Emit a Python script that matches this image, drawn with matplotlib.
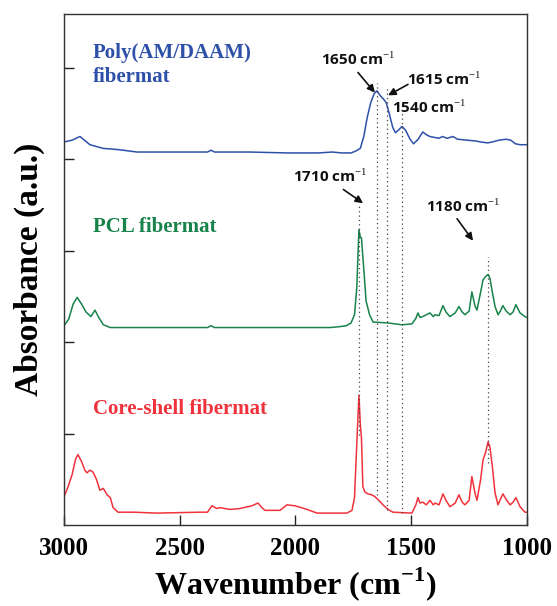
import numpy as np
import matplotlib
matplotlib.use('Agg')
import matplotlib.pyplot as plt

plt.rcParams['mathtext.fontset'] = 'custom'
plt.rcParams['mathtext.rm'] = 'Liberation Serif'
plt.rcParams['mathtext.bf'] = 'Liberation Serif:bold'

# Poly(AM/DAAM) fibermat (offset spectrum)
poly_wn = [3000, 2965, 2931, 2888, 2860, 2831, 2780, 2745, 2685, 2600, 2380, 2365, 2350, 2200, 2037,
           1900, 1842, 1800, 1760, 1740, 1720, 1705, 1690, 1675, 1660, 1648, 1635, 1620, 1608,
           1595, 1580, 1568, 1555, 1540, 1525, 1505, 1490, 1470, 1450, 1435, 1420, 1400, 1380,
           1365, 1345, 1320, 1300, 1260, 1220, 1200, 1170, 1150, 1120, 1090, 1070, 1050, 1030, 1000]
poly_abs = [4.19, 4.21, 4.25, 4.16, 4.14, 4.12, 4.11, 4.10, 4.08, 4.08, 4.08, 4.10, 4.08, 4.08, 4.07,
            4.07, 4.08, 4.07, 4.07, 4.09, 4.12, 4.25, 4.46, 4.62, 4.72, 4.75, 4.70, 4.66, 4.62,
            4.50, 4.35, 4.29, 4.32, 4.36, 4.32, 4.22, 4.17, 4.22, 4.30, 4.27, 4.25, 4.24, 4.23,
            4.25, 4.23, 4.25, 4.22, 4.21, 4.20, 4.19, 4.18, 4.19, 4.21, 4.22, 4.21, 4.17, 4.16, 4.16]

# PCL fibermat
pcl_wn = [3000, 2980, 2960, 2943, 2925, 2905, 2884, 2866, 2850, 2830, 2800, 2700, 2380, 2365,
          2350, 2000, 1850, 1808, 1780, 1760, 1745, 1735, 1726, 1720, 1715, 1705, 1695, 1680,
          1665, 1600, 1540, 1497, 1480, 1471, 1462, 1450, 1435, 1419, 1405, 1397, 1380, 1363,
          1350, 1333, 1310, 1294, 1280, 1268, 1250, 1238, 1225, 1216, 1200, 1190, 1178, 1168,
          1160, 1150, 1138, 1125, 1115, 1104, 1090, 1073, 1060, 1048, 1030, 1009, 1000]
pcl_abs = [2.18, 2.25, 2.42, 2.49, 2.42, 2.33, 2.28, 2.35, 2.27, 2.19, 2.16, 2.16, 2.16, 2.18,
           2.16, 2.16, 2.16, 2.17, 2.18, 2.21, 2.30, 2.60, 3.23, 3.15, 3.14, 2.80, 2.45, 2.30,
           2.22, 2.21, 2.19, 2.20, 2.26, 2.32, 2.27, 2.28, 2.30, 2.32, 2.28, 2.30, 2.29, 2.40,
           2.33, 2.28, 2.32, 2.39, 2.33, 2.30, 2.34, 2.55, 2.40, 2.35, 2.55, 2.68, 2.72, 2.74,
           2.70, 2.55, 2.39, 2.30, 2.34, 2.40, 2.34, 2.30, 2.33, 2.41, 2.32, 2.28, 2.27]

# Core-shell fibermat
core_wn = [3000, 2985, 2965, 2950, 2940, 2925, 2910, 2901, 2888, 2875, 2860, 2845, 2830, 2814,
           2800, 2788, 2767, 2700, 2600, 2412, 2380, 2361, 2340, 2326, 2283, 2240, 2188, 2162,
           2145, 2132, 2067, 2037, 2002, 1950, 1907, 1778, 1756, 1745, 1735, 1726, 1720, 1715,
           1709, 1700, 1687, 1670, 1657, 1640, 1622, 1600, 1579, 1497, 1480, 1471, 1462, 1450,
           1435, 1419, 1405, 1397, 1380, 1363, 1350, 1333, 1310, 1294, 1280, 1268, 1250, 1238,
           1225, 1216, 1200, 1190, 1178, 1168, 1160, 1150, 1138, 1125, 1115, 1104, 1090, 1073,
           1060, 1048, 1030, 1009, 1000]
core_abs = [0.31, 0.40, 0.55, 0.72, 0.77, 0.70, 0.60, 0.57, 0.60, 0.58, 0.50, 0.38, 0.40, 0.33,
            0.30, 0.19, 0.14, 0.14, 0.13, 0.14, 0.14, 0.21, 0.18, 0.19, 0.17, 0.18, 0.21, 0.24,
            0.19, 0.16, 0.16, 0.22, 0.21, 0.17, 0.13, 0.13, 0.16, 0.30, 0.90, 1.42, 1.10, 0.95,
            0.42, 0.36, 0.34, 0.33, 0.31, 0.27, 0.22, 0.17, 0.14, 0.13, 0.22, 0.30, 0.24, 0.25,
            0.22, 0.27, 0.22, 0.24, 0.22, 0.34, 0.27, 0.20, 0.24, 0.33, 0.25, 0.22, 0.27, 0.53,
            0.35, 0.27, 0.50, 0.71, 0.80, 0.91, 0.85, 0.65, 0.35, 0.22, 0.28, 0.34, 0.28, 0.22,
            0.25, 0.30, 0.20, 0.14, 0.14]

# dotted guide lines: position, top, bottom
guide_pos = [1726, 1648, 1605, 1540, 1168]
guide_top = [3.50, 4.84, 4.78, 4.52, 2.93]
guide_bot = [0.98, 0.33, 0.16, 0.13, 0.68]

# peak labels: text, text position, arrow tail, arrow head
peak_labels = ['1650 cm$^{-1}$', '1615 cm$^{-1}$', '1540 cm$^{-1}$', '1710 cm$^{-1}$', '1180 cm$^{-1}$']
peak_text_xy = [(1730, 5.09), (1359, 4.88), (1423, 4.57), (1851, 3.81), (1275, 3.49)]
peak_arrows = [((1730, 4.95), (1657, 4.73)), ((1514, 4.82), (1600, 4.70)), None,
               ((1793, 3.67), (1708, 3.52)), ((1302, 3.35), (1233, 3.11))]

blue = '#2d50a8'
green = '#17834a'
red = '#f0323c'

fig = plt.figure(figsize=(5.57, 6.06), dpi=100)
ax = fig.add_axes([0.1149, 0.1337, 0.8312, 0.8432])

ax.plot(poly_wn, poly_abs, color=blue, lw=1.1)
ax.plot(pcl_wn, pcl_abs, color=green, lw=1.1)
ax.plot(core_wn, core_abs, color=red, lw=1.1)

for x, top, bot in zip(guide_pos, guide_top, guide_bot):
    ax.plot([x, x], [bot, top], color='#444444', lw=0.9, linestyle=(0, (1, 2.5)))

for label, txy, arr in zip(peak_labels, peak_text_xy, peak_arrows):
    ax.text(txy[0], txy[1], label, ha='center', va='center', fontsize=11,
            fontfamily='Open Sans', fontweight='bold', color='#111111')
    if arr is not None:
        ax.annotate('', xy=arr[1], xytext=arr[0],
                    arrowprops=dict(arrowstyle='-|>', color='#111111', lw=1.2,
                                    mutation_scale=11, shrinkA=0, shrinkB=0))

ax.text(2875, 5.03, 'Poly(AM/DAAM)\nfibermat', color=blue, fontsize=15, fontweight='bold',
        fontfamily='Liberation Serif', ha='left', va='center', linespacing=1.3)
ax.text(2875, 3.26, 'PCL fibermat', color=green, fontsize=15, fontweight='bold',
        fontfamily='Liberation Serif', ha='left', va='center')
ax.text(2875, 1.27, 'Core-shell fibermat', color=red, fontsize=15, fontweight='bold',
        fontfamily='Liberation Serif', ha='left', va='center')

ax.set_xlim(3000, 1000)
ax.set_ylim(0, 5.59)
ax.set_xticks([3000, 2500, 2000, 1500, 1000])
ax.set_yticks([1, 2, 3, 4, 5])
ax.set_yticklabels([])
ax.tick_params(direction='in', length=7, width=1, color='#222222')
ax.tick_params(axis='x', pad=9)
for lab in ax.get_xticklabels():
    lab.set_fontfamily('Liberation Serif')
    lab.set_fontweight('bold')
    lab.set_fontsize(18)
for sp in ax.spines.values():
    sp.set_color('#333333')
    sp.set_linewidth(1.0)

ax.set_xlabel('Wavenumber (cm$^{\\mathbf{-1}}$)', fontfamily='Liberation Serif', fontweight='bold',
              fontsize=23, labelpad=3)
ax.set_ylabel('Absorbance (a.u.)', fontfamily='Liberation Serif', fontweight='bold',
              fontsize=24, labelpad=10)

plt.savefig('out.png', dpi=100)
